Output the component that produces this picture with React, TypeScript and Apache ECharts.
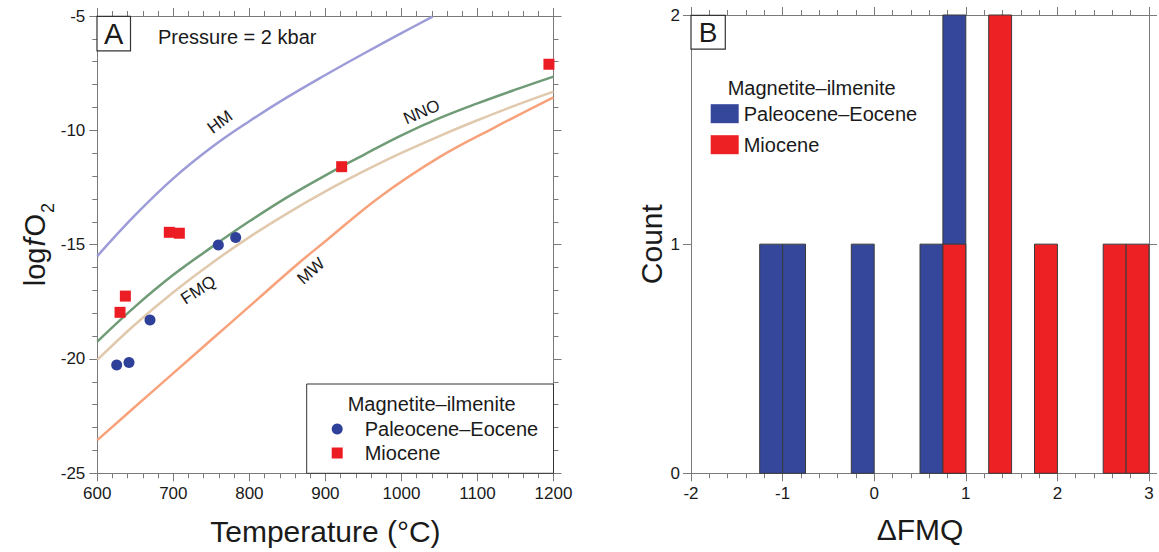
import React, { useEffect, useRef } from "react";
import * as echarts from "echarts";

const FONT = "'Liberation Sans', Arial, Helvetica, sans-serif";

// Panel A: buffer curves (T in °C, log fO2)
const hmT = [600, 650, 700, 750, 800, 850, 900, 950, 1000, 1041];
const hmV = [-15.5, -13.7, -12.1, -10.75, -9.6, -8.55, -7.58, -6.65, -5.75, -5.03];
const nnoT = [600, 650, 700, 750, 800, 850, 900, 950, 1000, 1050, 1100, 1150, 1200];
const nnoV = [-19.24, -17.7, -16.32, -15.12, -13.98, -12.92, -11.97, -11.08, -10.22, -9.47, -8.82, -8.22, -7.65];
const fmqT = [600, 650, 700, 750, 800, 850, 900, 950, 1000, 1050, 1100, 1150, 1200];
const fmqV = [-20.04, -18.48, -17.08, -15.82, -14.67, -13.63, -12.67, -11.8, -10.99, -10.25, -9.56, -8.91, -8.31];
const mwT = [600, 650, 700, 750, 800, 867, 900, 972, 1051, 1121, 1200];
const mwV = [-23.55, -22.08, -20.62, -19.16, -17.7, -15.75, -14.85, -12.9, -11.15, -9.9, -8.56];

// Panel A: samples
const paleoT = [625.5, 641.7, 669.3, 759.2, 782];
const paleoV = [-20.26, -20.15, -18.3, -15.02, -14.69];
const mioT = [629.9, 636.9, 694.7, 707.9, 921.4, 1194];
const mioV = [-17.96, -17.25, -14.46, -14.5, -11.59, -7.11];

// Panel B: histogram of ΔFMQ (bin starts and counts)
const BIN = 0.25;
const paleoBins = [-1.25, -1, -0.25, 0.5, 0.75];
const paleoCounts = [1, 1, 1, 1, 2];
const mioBins = [0.75, 1.25, 1.75, 2.5, 2.75];
const mioCounts = [1, 2, 1, 1, 1];

const SERIES_NAMES = ["Paleocene–Eocene", "Miocene"];
const LEGEND_TITLE = "Magnetite–ilmenite";

const BLUE = "#2f409a";
const RED = "#ec1c24";
const BAR_BLUE = "#34479b";
const BAR_RED = "#ed2024";
const AX = "#7a7a7a";
const TXT = "#1a1a1a";

const zip = (a: number[], b: number[]) => a.map((v, i) => [v, b[i]]);

function axisBase(extra: any) {
  return {
    type: "value",
    splitLine: { show: false },
    axisLine: { show: true, onZero: false, lineStyle: { color: AX, width: 1 } },
    axisTick: { show: true, inside: false, length: 8, lineStyle: { color: AX } },
    axisLabel: { show: false },
    ...extra,
  };
}
const minor5 = { show: true, splitNumber: 5, length: 5, lineStyle: { color: AX } };
const lbl = (margin: number) => ({
  show: true,
  fontSize: 17,
  fontFamily: FONT,
  color: TXT,
  margin,
  showMinLabel: true,
  showMaxLabel: true,
  formatter: (v: number) => String(v),
});

export default function App() {
  const ref = useRef<HTMLDivElement>(null);
  useEffect(() => {
    const chart = echarts.init(ref.current!, null, { renderer: "svg" });

    const histItem = (color: string) => (params: any, api: any) => {
      const x0 = api.value(0);
      const c = api.value(1);
      const p0 = api.coord([x0, c]);
      const p1 = api.coord([x0 + BIN, 0]);
      return {
        type: "rect",
        shape: { x: p0[0], y: p0[1], width: p1[0] - p0[0], height: p1[1] - p0[1] },
        style: { fill: color, stroke: "#3a3a3a", lineWidth: 1 },
      };
    };

    const lineSeries = (name: string, t: number[], v: number[], color: string) => ({
      name,
      type: "line",
      xAxisIndex: 0,
      yAxisIndex: 0,
      data: zip(t, v),
      smooth: 0.4,
      showSymbol: false,
      symbol: "none",
      lineStyle: { color, width: 2.5 },
      silent: true,
      z: 2,
    });

    const curveLabel = (text: string, x: number, y: number, deg: number) => ({
      type: "text",
      x,
      y,
      rotation: (deg * Math.PI) / 180,
      z: 5,
      style: {
        text,
        fontSize: 17,
        fontFamily: FONT,
        fill: TXT,
        align: "center",
        verticalAlign: "middle",
      },
    });

    const option: any = {
      animation: false,
      backgroundColor: "#ffffff",
      textStyle: { fontFamily: FONT },
      grid: [
        { left: 97.3, top: 16, width: 456.2, height: 457.3 },
        { left: 691, top: 15, width: 458, height: 458.3 },
      ],
      xAxis: [
        axisBase({
          gridIndex: 0,
          position: "bottom",
          min: 600,
          max: 1200,
          interval: 100,
          minorTick: minor5,
          axisLabel: lbl(12),
          name: "Temperature (°C)",
          nameLocation: "middle",
          nameGap: 43,
          nameTextStyle: { fontSize: 30, fontFamily: FONT, color: TXT },
        }),
        axisBase({ gridIndex: 0, position: "top", min: 600, max: 1200, interval: 100, minorTick: minor5 }),
        axisBase({
          gridIndex: 1,
          position: "bottom",
          min: -2,
          max: 3,
          interval: 1,
          minorTick: minor5,
          axisLabel: lbl(12),
          name: "ΔFMQ",
          nameLocation: "middle",
          nameGap: 41,
          nameTextStyle: { fontSize: 30, fontFamily: FONT, color: TXT },
        }),
        axisBase({ gridIndex: 1, position: "top", min: -2, max: 3, interval: 1, minorTick: minor5 }),
      ],
      yAxis: [
        axisBase({
          gridIndex: 0,
          position: "left",
          min: -25,
          max: -5,
          interval: 5,
          minorTick: minor5,
          axisLabel: lbl(12),
          name: "{a|log}{f|f}{a|O}{s|2}",
          nameLocation: "middle",
          nameRotate: 90,
          nameGap: 42,
          nameTextStyle: {
            rich: {
              a: { fontSize: 29, lineHeight: 32, fontFamily: FONT, color: TXT, verticalAlign: "top" },
              f: { fontSize: 29, lineHeight: 32, fontFamily: FONT, color: TXT, fontStyle: "italic", verticalAlign: "top", padding: [0, 2, 0, 1] },
              s: { fontSize: 18, lineHeight: 18, fontFamily: FONT, color: TXT, verticalAlign: "top", padding: [18, 0, 0, 1] },
            },
          },
        }),
        axisBase({ gridIndex: 0, position: "right", min: -25, max: -5, interval: 5, minorTick: minor5 }),
        axisBase({
          gridIndex: 1,
          position: "left",
          min: 0,
          max: 2,
          interval: 1,
          axisLabel: lbl(11),
          name: "Count",
          nameLocation: "middle",
          nameRotate: 90,
          nameGap: 20,
          nameTextStyle: { fontSize: 30, fontFamily: FONT, color: TXT },
        }),
        axisBase({ gridIndex: 1, position: "right", min: 0, max: 2, interval: 1 }),
      ],
      legend: [
        {
          selectedMode: false,
          orient: "vertical",
          left: 331.7,
          top: 419,
          padding: 0,
          itemWidth: 11,
          itemHeight: 11,
          itemGap: 4,
          z: 6,
          textStyle: { fontSize: 20, lineHeight: 20, fontFamily: FONT, color: TXT, padding: [0, 0, 0, 17] },
          data: [
            { name: SERIES_NAMES[0], icon: "circle", itemStyle: { color: BLUE, borderWidth: 0, opacity: 1 } },
            { name: SERIES_NAMES[1], icon: "rect", itemStyle: { color: RED, borderWidth: 0, opacity: 1 } },
          ],
        },
        {
          selectedMode: false,
          orient: "vertical",
          left: 710.7,
          top: 103.7,
          padding: 0,
          itemWidth: 28,
          itemHeight: 19,
          itemGap: 11,
          z: 6,
          textStyle: { fontSize: 20, lineHeight: 20, fontFamily: FONT, color: TXT },
          data: [
            { name: SERIES_NAMES[0], icon: "rect", itemStyle: { color: BAR_BLUE, borderWidth: 0, opacity: 1 } },
            { name: SERIES_NAMES[1], icon: "rect", itemStyle: { color: BAR_RED, borderWidth: 0, opacity: 1 } },
          ],
        },
      ],
      graphic: [
        // Panel letters
        { type: "rect", z: 4, shape: { x: 97, y: 16.3, width: 33.5, height: 34.5 }, style: { fill: "#fff", stroke: "#333", lineWidth: 1.2 } },
        { type: "text", z: 5, x: 113.7, y: 34, style: { text: "A", fontSize: 29, fontFamily: FONT, fill: TXT, align: "center", verticalAlign: "middle" } },
        { type: "rect", z: 4, shape: { x: 691, y: 15.3, width: 34.3, height: 33.8 }, style: { fill: "#fff", stroke: "#333", lineWidth: 1.2 } },
        { type: "text", z: 5, x: 708.2, y: 32.5, style: { text: "B", fontSize: 28, fontFamily: FONT, fill: TXT, align: "center", verticalAlign: "middle" } },
        { type: "text", z: 5, x: 158, y: 37, style: { text: "Pressure = 2 kbar", fontSize: 20, fontFamily: FONT, fill: TXT, align: "left", verticalAlign: "middle" } },
        // Legend A box and title
        { type: "rect", z: 4, shape: { x: 306.7, y: 384, width: 246.8, height: 89.3 }, style: { fill: "#fff", stroke: "#333", lineWidth: 1 } },
        { type: "text", z: 5, x: 347.7, y: 403.5, style: { text: LEGEND_TITLE, fontSize: 20, fontFamily: FONT, fill: TXT, align: "left", verticalAlign: "middle" } },
        // Legend B title
        { type: "text", z: 5, x: 727.7, y: 87.5, style: { text: LEGEND_TITLE, fontSize: 20, fontFamily: FONT, fill: TXT, align: "left", verticalAlign: "middle" } },
        // Curve labels
        curveLabel("HM", 220, 122, 37),
        curveLabel("NNO", 421.7, 112, 23),
        curveLabel("FMQ", 198.3, 290, 33),
        curveLabel("MW", 311, 271, 42),
      ],
      series: [
        lineSeries("HM", hmT, hmV, "#9d9bd8"),
        lineSeries("MW", mwT, mwV, "#f8a27c"),
        lineSeries("FMQ", fmqT, fmqV, "#e0c9ad"),
        lineSeries("NNO", nnoT, nnoV, "#6f9c76"),
        {
          name: SERIES_NAMES[0],
          type: "scatter",
          xAxisIndex: 0,
          yAxisIndex: 0,
          symbol: "circle",
          symbolSize: 11,
          itemStyle: { color: BLUE, opacity: 1 },
          data: zip(paleoT, paleoV),
          z: 3,
        },
        {
          name: SERIES_NAMES[1],
          type: "scatter",
          xAxisIndex: 0,
          yAxisIndex: 0,
          symbol: "rect",
          symbolSize: 11,
          itemStyle: { color: RED, opacity: 1 },
          data: zip(mioT, mioV),
          z: 3,
        },
        {
          name: SERIES_NAMES[0],
          type: "custom",
          xAxisIndex: 2,
          yAxisIndex: 2,
          renderItem: histItem(BAR_BLUE),
          encode: { x: 0, y: 1 },
          data: zip(paleoBins, paleoCounts),
          z: 2,
        },
        {
          name: SERIES_NAMES[1],
          type: "custom",
          xAxisIndex: 2,
          yAxisIndex: 2,
          renderItem: histItem(BAR_RED),
          encode: { x: 0, y: 1 },
          data: zip(mioBins, mioCounts),
          z: 3,
        },
      ],
    };

    chart.setOption(option);
    return () => chart.dispose();
  }, []);

  return (
    <div
      ref={ref}
      style={{ position: "fixed", left: 0, top: 0, width: 1159, height: 552, background: "#fff" }}
    />
  );
}
